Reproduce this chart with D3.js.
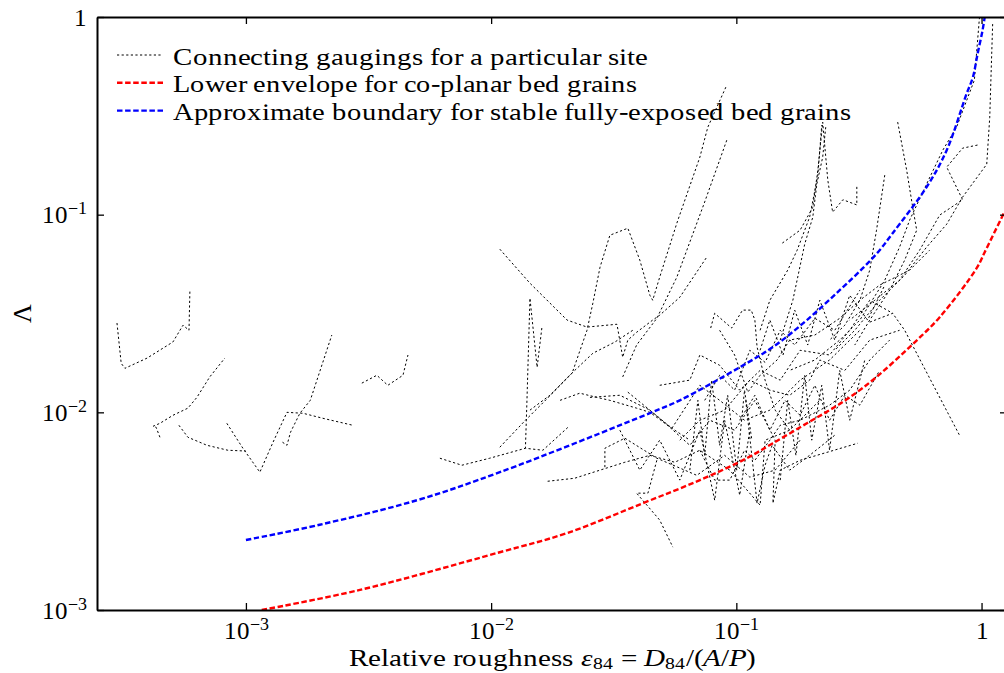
<!DOCTYPE html>
<html>
<head>
<meta charset="utf-8">
<script src="https://cdn.jsdelivr.net/npm/d3@7"></script>
<style>
  @font-face {
    font-family: "ChartSerif";
    font-style: normal;
    font-weight: 400;
    src: local("Liberation Serif"), local("LiberationSerif"), local("LiberationSerif-Regular"),
         local("Tinos"), local("Tinos-Regular"), local("DejaVu Serif"), local("DejaVuSerif"),
         local("Noto Serif"), local("NotoSerif-Regular");
  }
  @font-face {
    font-family: "ChartSerif";
    font-style: italic;
    font-weight: 400;
    src: local("Liberation Serif Italic"), local("LiberationSerif-Italic"),
         local("Tinos Italic"), local("Tinos-Italic"), local("DejaVu Serif Italic"), local("DejaVuSerif-Italic"),
         local("Noto Serif Italic"), local("NotoSerif-Italic");
  }
  body { margin: 0; background: #fff; }
  svg { display: block; }
  svg text { font-family: "ChartSerif", "Liberation Serif", "DejaVu Serif", serif; }
</style>
</head>
<body>
<svg id="chart" width="1004" height="673"></svg>
<script>
// ---- axis domains and tick values ----
const xDomain = [2.47e-4, 1.27];
const yDomain = [1e-3, 1];
const xTicks = [1e-3, 1e-2, 1e-1, 1];
const yTicks = [1e-3, 1e-2, 1e-1, 1];

const legendLabels = [
  "Connecting gaugings for a particular site",
  "Lower envelope for co-planar bed grains",
  "Approximate boundary for stable fully-exposed bed grains"
];

// ---- reference curves (relative roughness, Lambda) ----
const lowerEnvX = [0.00116, 0.00289, 0.01085, 0.0204, 0.0416, 0.071, 0.1104, 0.141, 0.194, 0.24, 0.29, 0.373, 0.509, 0.675, 0.955, 1.03, 1.234];
const lowerEnvY = [0.001, 0.00126, 0.00196, 0.00245, 0.00347, 0.00454, 0.00586, 0.00698, 0.0088, 0.01026, 0.0119, 0.0151, 0.0214, 0.0303, 0.0536, 0.0646, 0.102];

const stableX = [0.001, 0.002, 0.00498, 0.01085, 0.0444, 0.0588, 0.1032, 0.141, 0.194, 0.264, 0.328, 0.384, 0.434, 0.597, 0.721, 0.869, 0.922, 0.963, 1.01, 1.03];
const stableY = [0.00226, 0.0027, 0.00359, 0.00498, 0.00991, 0.0115, 0.0169, 0.0214, 0.0293, 0.0415, 0.0536, 0.0661, 0.0806, 0.138, 0.212, 0.409, 0.496, 0.649, 0.859, 1.0];

// ---- gaugings connected per site: [relative roughness, Lambda] ----
const smallRoughnessSites = [
  [[2.98e-4,0.0283],[3.10e-4,0.0177],[3.21e-4,0.0167],[3.95e-4,0.0188],[5.04e-4,0.0227],[5.54e-4,0.0276],[5.86e-4,0.0260],[5.91e-4,0.0415]],
  [[4.46e-4,0.00748],[4.30e-4,0.00841],[4.18e-4,0.0085],[4.46e-4,0.0088],[5.04e-4,0.00966],[5.80e-4,0.0105],[6.31e-4,0.0119],[7.12e-4,0.0151],[8.20e-4,0.0188]],
  [[5.33e-4,0.0086],[5.80e-4,0.00748],[6.94e-4,0.00681],[8.44e-4,0.00643],[1.0e-3,0.00637]],
  [[8.36e-4,0.0088],[9.72e-4,0.00658],[1.14e-3,0.00498],[1.29e-3,0.00706],[1.47e-3,0.0100],[1.71e-3,0.00989],[2.06e-3,0.00933],[2.73e-3,0.0086]],
  [[1.41e-3,0.00706],[1.47e-3,0.00681],[1.52e-3,0.00793],[1.66e-3,0.00989],[1.83e-3,0.0115],[2.24e-3,0.0246]],
  [[2.97e-3,0.01405],[3.42e-3,0.0154],[3.79e-3,0.0137],[4.37e-3,0.0154],[4.58e-3,0.0195]]
];

const midRoughnessSites = [
  [[0.00618,0.00586],[0.0076,0.0054],[0.00987,0.00586],[0.0138,0.00658],[0.01626,0.00643],[0.0206,0.00841]],
  [[0.0161,0.0267],[0.0154,0.0169],[0.0144,0.0378],[0.0140,0.0115],[0.0138,0.00658]],
  [[0.01085,0.0669],[0.0144,0.045],[0.0204,0.0293],[0.0246,0.027],[0.0326,0.0279],[0.0344,0.019],[0.0361,0.0232],[0.0392,0.0254],[0.0456,0.0293],[0.0487,0.031],[0.0588,0.0382],[0.0757,0.0609]],
  [[0.01085,0.00666],[0.0138,0.00912],[0.0170,0.0118],[0.0214,0.0158],[0.0246,0.026],[0.026,0.0357],[0.0278,0.0542],[0.0305,0.0787],[0.0361,0.0854],[0.0404,0.0589],[0.0444,0.0391],[0.0456,0.0369],[0.0487,0.0483],[0.0572,0.0906],[0.0710,0.1955],[0.0765,0.277],[0.0914,0.452]],
  [[0.0914,0.238],[0.0743,0.116],[0.0572,0.0483],[0.0474,0.0299],[0.0392,0.0219],[0.0344,0.0151]],
  [[0.0144,0.01026],[0.01736,0.0122],[0.0209,0.0154],[0.026,0.0199],[0.032,0.0227],[0.0378,0.026]],
  [[0.0191,0.0115],[0.023,0.0125],[0.027,0.0119],[0.0305,0.0115],[0.0392,0.0105],[0.0444,0.01],[0.0546,0.00831],[0.0646,0.00723]]
];

const clusterSites = [
  [[0.0170,0.00448],[0.0219,0.00464],[0.0278,0.0051],[0.0351,0.00559],[0.0444,0.00606],[0.0561,0.00559],[0.071,0.00643],[0.094,0.0051],[0.125,0.00339],[0.131,0.00723],[0.165,0.00812],[0.219,0.0115]],
  [[0.0253,0.0119],[0.0335,0.0122],[0.0444,0.01026],[0.0546,0.00831],[0.071,0.0137],[0.0855,0.0115],[0.108,0.00912],[0.137,0.01026],[0.182,0.01455],[0.24,0.0184],[0.319,0.026]],
  [[0.0291,0.00528],[0.0291,0.00658],[0.0351,0.0074],[0.0474,0.00586],[0.069,0.0048],[0.0896,0.00606],[0.1135,0.0047],[0.144,0.0051],[0.182,0.00723]],
  [[0.0474,0.00572],[0.0436,0.0039],[0.0392,0.0039],[0.0487,0.00285],[0.0551,0.00208]],
  [[0.0361,0.01265],[0.0444,0.01026],[0.0535,0.00841],[0.0646,0.00681],[0.0779,0.00912],[0.0984,0.00812],[0.119,0.0115],[0.144,0.00723],[0.141,0.00347],[0.151,0.0051],[0.182,0.00572],[0.313,0.00698]],
  [[0.0487,0.0137],[0.0646,0.01455],[0.071,0.0195],[0.0855,0.0173],[0.1032,0.01295],[0.125,0.0163],[0.151,0.01455],[0.182,0.0206],[0.24,0.0195],[0.29,0.026],[0.35,0.0369],[0.434,0.0317]],
  [[0.0855,0.026],[0.0984,0.0195],[0.1114,0.01265],[0.125,0.0154],[0.1466,0.0184],[0.165,0.0232],[0.209,0.0246],[0.264,0.0299],[0.319,0.0369],[0.384,0.044],[0.509,0.0524],[0.614,0.0661]],
  [[0.071,0.00643],[0.0816,0.00454],[0.094,0.00454],[0.108,0.00643],[0.119,0.00572],[0.137,0.00723],[0.151,0.0086],[0.182,0.00912],[0.24,0.01087],[0.29,0.01295],[0.35,0.0184],[0.422,0.0232]],
  [[0.1092,0.0115],[0.1215,0.00347],[0.131,0.0054],[0.140,0.00681],[0.165,0.0051],[0.199,0.00606],[0.252,0.00766]],
  [[0.0588,0.00723],[0.071,0.00912],[0.0896,0.01026],[0.1135,0.01455],[0.137,0.01295],[0.165,0.0122],[0.199,0.01455],[0.219,0.0184],[0.277,0.0163],[0.35,0.0232],[0.463,0.026]],
  [[0.1032,0.00912],[0.119,0.0122],[0.137,0.00812],[0.158,0.0115],[0.182,0.00966],[0.209,0.0137],[0.24,0.00912],[0.277,0.0122],[0.319,0.01087],[0.384,0.0163]],
  [[0.0743,0.0115],[0.0855,0.0154],[0.0984,0.01295],[0.1135,0.0206],[0.131,0.0179],[0.151,0.026],[0.173,0.0219],[0.209,0.0299],[0.252,0.026],[0.319,0.0415]],
  [[0.0786,0.0267],[0.0816,0.0317],[0.0957,0.0267],[0.106,0.0329],[0.115,0.0329],[0.119,0.0293],[0.1215,0.0214],[0.131,0.01455],[0.144,0.01026],[0.165,0.00812]],
  [[0.0646,0.0051],[0.0697,0.0115],[0.0743,0.00606],[0.0793,0.01455],[0.0855,0.00681],[0.0922,0.0122],[0.1004,0.0051],[0.108,0.01295],[0.1157,0.00723]],
  [[0.151,0.00454],[0.162,0.0115],[0.175,0.00606],[0.190,0.0154],[0.203,0.00723],[0.223,0.0137],[0.24,0.00643],[0.264,0.0163],[0.29,0.00912],[0.334,0.0184]],
  [[0.0335,0.00812],[0.0404,0.0051],[0.0487,0.00723],[0.0588,0.00454],[0.071,0.00812],[0.0816,0.00359],[0.0896,0.00912],[0.1032,0.00381],[0.1135,0.00812]],
  [[0.125,0.0206],[0.137,0.0293],[0.155,0.0195],[0.173,0.0329],[0.1955,0.0219],[0.219,0.0369],[0.252,0.0232],[0.29,0.0391],[0.343,0.0293],[0.403,0.044]]
];

const largeRoughnessSites = [
  [[0.154,0.0718],[0.182,0.0835],[0.205,0.109],[0.215,0.168],[0.225,0.294],[0.236,0.150],[0.247,0.103],[0.272,0.119],[0.31,0.112],[0.31,0.141]],
  [[0.125,0.026],[0.137,0.0369],[0.162,0.0524],[0.177,0.0661],[0.199,0.0971],[0.215,0.1585],[0.223,0.284]],
  [[0.151,0.0232],[0.170,0.0369],[0.190,0.0709],[0.205,0.0971],[0.213,0.143],[0.225,0.1955],[0.2315,0.277]],
  [[1.11,0.921],[1.10,0.649],[1.08,0.311],[1.05,0.180],[0.837,0.1227],[0.721,0.0895],[0.597,0.0685],[0.486,0.0494],[0.384,0.0369],[0.304,0.026],[0.252,0.0206]],
  [[0.981,1.0],[0.935,0.48],[0.791,0.277],[0.695,0.212],[0.597,0.143],[0.509,0.0938],[0.463,0.0685],[0.403,0.0466],[0.319,0.0293],[0.264,0.0232],[0.209,0.0184],[0.165,0.0163]],
  [[0.963,0.225],[0.837,0.217],[0.721,0.174],[0.837,0.119],[0.675,0.0995],[0.559,0.0661],[0.463,0.0466],[0.367,0.0369],[0.29,0.0293]],
  [[0.455,0.294],[0.495,0.168],[0.524,0.109],[0.544,0.0835],[0.486,0.0589],[0.422,0.0415],[0.35,0.0293],[0.304,0.0219]],
  [[0.403,0.1585],[0.373,0.0835],[0.35,0.0524],[0.319,0.0369],[0.277,0.0276],[0.24,0.0232]],
  [[0.35,0.0286],[0.434,0.0317],[0.486,0.026],[0.614,0.0149],[0.813,0.00766]]
];

// ---- layout ----
const W = 1004, H = 673;
const plotLeft = 97, plotRight = 1007, plotTop = 17, plotBottom = 610;
const FONT = 25;

const svg = d3.select("#chart");
svg.append("rect").attr("width", W).attr("height", H).attr("fill", "#fff");

const x = d3.scaleLog().domain(xDomain).range([plotLeft, plotRight]);
const y = d3.scaleLog().domain(yDomain).range([plotBottom, plotTop]);

svg.append("defs").append("clipPath").attr("id", "plot-clip")
  .append("rect")
  .attr("x", plotLeft).attr("y", plotTop)
  .attr("width", plotRight - plotLeft).attr("height", plotBottom - plotTop);

const plot = svg.append("g").attr("clip-path", "url(#plot-clip)");

const styles = {
  site:   { stroke: "#000", width: 1.0, dash: "2.2,2.4" },
  lower:  { stroke: "#ff0000", width: 2.4, dash: "5.5,2.6" },
  stable: { stroke: "#0000ff", width: 2.4, dash: "5.5,2.6" }
};

const straight = d3.line().x(d => x(d[0])).y(d => y(d[1]));
const smooth = d3.line().x(d => x(d[0])).y(d => y(d[1])).curve(d3.curveCatmullRom.alpha(0.5));

const allSites = [].concat(smallRoughnessSites, midRoughnessSites, clusterSites, largeRoughnessSites);

plot.selectAll("path.site")
  .data(allSites)
  .join("path")
  .attr("class", "site")
  .attr("d", straight)
  .attr("fill", "none")
  .attr("stroke", styles.site.stroke)
  .attr("stroke-width", styles.site.width)
  .attr("stroke-dasharray", styles.site.dash);

plot.append("path")
  .datum(d3.zip(lowerEnvX, lowerEnvY))
  .attr("d", smooth)
  .attr("fill", "none")
  .attr("stroke", styles.lower.stroke)
  .attr("stroke-width", styles.lower.width)
  .attr("stroke-dasharray", styles.lower.dash);

plot.append("path")
  .datum(d3.zip(stableX, stableY))
  .attr("d", smooth)
  .attr("fill", "none")
  .attr("stroke", styles.stable.stroke)
  .attr("stroke-width", styles.stable.width)
  .attr("stroke-dasharray", styles.stable.dash);

// ---- axes ----
function powerLabel(sel) {
  sel.each(function (v) {
    const t = d3.select(this);
    t.text(null);
    const k = Math.round(Math.log10(v));
    if (k === 0) {
      t.append("tspan").text("1");
    } else {
      t.append("tspan").text("10");
      t.append("tspan").attr("dy", -9).attr("font-size", 18).text("\u2212" + Math.abs(k));
    }
  });
}

function styleAxis(g) {
  g.attr("font-family", null).attr("font-size", FONT);
  g.select(".domain").attr("stroke", "#000").attr("stroke-width", 2);
  g.selectAll(".tick line").attr("stroke", "#000").attr("stroke-width", 1.3);
}

const gBottom = svg.append("g")
  .attr("transform", `translate(0,${plotBottom})`)
  .call(d3.axisBottom(x).tickValues(xTicks).tickSizeInner(-7).tickSizeOuter(0).tickPadding(11));
styleAxis(gBottom);
gBottom.selectAll(".tick text").call(powerLabel);

const gLeft = svg.append("g")
  .attr("transform", `translate(${plotLeft},0)`)
  .call(d3.axisLeft(y).tickValues(yTicks).tickSizeInner(-7).tickSizeOuter(0).tickPadding(10));
styleAxis(gLeft);
gLeft.selectAll(".tick text").call(powerLabel);

const gTop = svg.append("g")
  .attr("transform", `translate(0,${plotTop})`)
  .call(d3.axisTop(x).tickValues(xTicks).tickSizeInner(-7).tickSizeOuter(0).tickFormat(""));
styleAxis(gTop);

const gRight = svg.append("g")
  .attr("transform", `translate(${plotRight},0)`)
  .call(d3.axisRight(y).tickValues(yTicks).tickSizeInner(-7).tickSizeOuter(0).tickFormat(""));
styleAxis(gRight);

// ---- axis titles ----
const xTitle = svg.append("text")
  .attr("x", (plotLeft + plotRight) / 2)
  .attr("y", 666)
  .attr("font-size", FONT)
  .attr("text-anchor", "middle")
  .attr("textLength", 407)
  .attr("lengthAdjust", "spacingAndGlyphs");
xTitle.append("tspan").text("Relative roughness ");
xTitle.append("tspan").attr("font-style", "italic").text("\u03b5");
xTitle.append("tspan").attr("font-size", 17).attr("dy", 3).text("84");
xTitle.append("tspan").attr("dy", -3).text(" = ");
xTitle.append("tspan").attr("font-style", "italic").text("D");
xTitle.append("tspan").attr("font-size", 17).attr("dy", 3).text("84");
xTitle.append("tspan").attr("dy", -3).text("/(");
xTitle.append("tspan").attr("font-style", "italic").text("A");
xTitle.append("tspan").text("/");
xTitle.append("tspan").attr("font-style", "italic").text("P");
xTitle.append("tspan").text(")");

svg.append("text")
  .attr("font-size", 26)
  .attr("text-anchor", "middle")
  .attr("transform", `translate(31,${(plotTop + plotBottom) / 2}) rotate(-90)`)
  .text("\u039b");

// ---- legend ----
const legendTextWidths = [475, 464, 678];
const legendKeys = [styles.site, styles.lower, styles.stable];
const legend = svg.append("g");
legendLabels.forEach((label, i) => {
  const cy = 55 + i * 27.8;
  const st = legendKeys[i];
  legend.append("line")
    .attr("x1", 117).attr("x2", 163)
    .attr("y1", cy).attr("y2", cy)
    .attr("stroke", st.stroke)
    .attr("stroke-width", st.width)
    .attr("stroke-dasharray", st.dash);
  legend.append("text")
    .attr("x", 173)
    .attr("y", cy + 9.5)
    .attr("font-size", FONT)
    .attr("textLength", legendTextWidths[i])
    .attr("lengthAdjust", "spacingAndGlyphs")
    .text(label);
});
</script>
</body>
</html>
